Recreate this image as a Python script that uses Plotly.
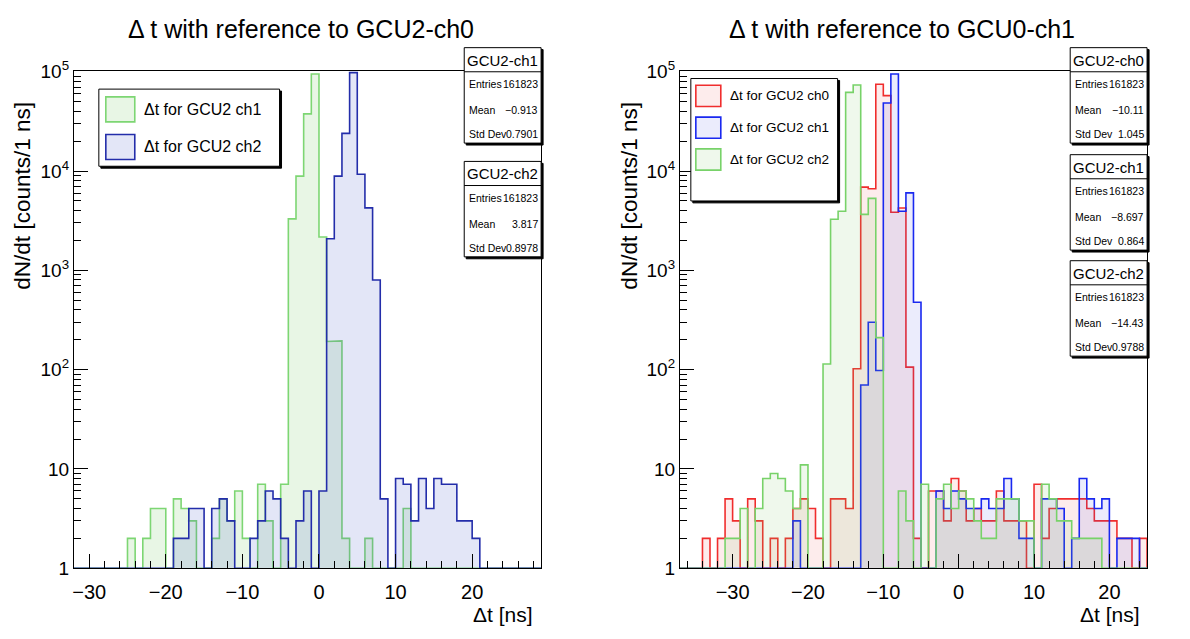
import plotly.graph_objects as go

W, H = 1190, 639
FONT = "Liberation Sans, Arial, Helvetica, sans-serif"

# ---------------- data (1 ns bins, value = counts in [edge, edge+1)) ----------------
left_first_edge = -32      # left pad: bins from -32 to 29
left_ch1 = [0, 0, 0, 0, 0, 0, 0, 2, 0, 2, 4, 4, 0, 5, 4, 3, 0, 0, 2, 5, 3, 6, 2, 0, 7, 3, 0, 7,
            3300, 8900, 37700, 95000, 2170, 192, 195, 2, 0, 0, 2, 0, 0, 0, 0, 4,
            0, 0, 0, 0, 0, 0, 0, 0, 0, 0, 0, 0, 0, 0, 0, 0, 0]
left_ch2 = [0, 0, 0, 0, 0, 0, 0, 0, 0, 0, 0, 0, 0,
            2, 2, 4, 4, 0, 4, 5, 3, 0, 0, 2, 3, 6, 5, 2, 0, 3, 6, 0, 6,
            2080, 8900, 24000, 98000, 9300, 4260, 800, 5, 0,
            8, 7, 3, 8, 4, 8, 7, 7, 3, 3, 2,
            0, 0, 0, 0, 0, 0, 0, 0]

right_first_edge = -37     # right pad: bins from -37 to 25
right_ch0 = [0, 0, 0, 2, 0, 2, 5, 3, 0, 5, 3, 0, 2, 0, 2, 4, 5, 4, 2, 0, 5, 5, 4,
             102, 6890, 6640, 74800, 57600, 3850, 4250, 106, 2,
             0, 6, 6, 3, 8, 6, 3, 4, 3, 3, 6, 3, 3, 3, 0, 7, 2, 4, 5, 5, 5, 5, 4, 3, 3, 3, 2, 2, 0, 2]
right_ch1 = [0, 0, 0, 0, 0, 0, 0, 0, 0, 0, 0, 0, 0, 0, 0, 3,
             0, 0, 0, 0, 0, 0, 0, 0,
             70, 300, 98, 48500, 95000, 3940, 6030, 478,
             0, 0, 6, 4, 6, 5, 4, 4, 5, 4, 4, 8, 5, 2, 2, 0, 5, 5, 4, 0, 2, 8, 5, 4, 5, 0, 2, 2, 2, 0]
right_ch2 = [0, 0, 0, 0, 0, 0,
             2, 2, 4, 0, 4, 8, 9, 8, 6, 4, 11, 0, 0,
             114, 3270, 3940, 62100, 73600, 3660, 5310, 210, 0, 0,
             6, 3, 0, 7, 0, 5, 7, 4, 6, 5, 3, 2, 2, 5, 5, 5, 3, 3, 0, 7, 5, 3, 3, 2, 2, 2, 2,
             0, 0, 0, 0, 0, 0]

left_stats = [("GCU2-ch1", "161823", "\u22120.913", "0.7901"),
              ("GCU2-ch2", "161823", "3.817", "0.8978")]
right_stats = [("GCU2-ch0", "161823", "\u221210.11", "1.045"),
               ("GCU2-ch1", "161823", "\u22128.697", "0.864"),
               ("GCU2-ch2", "161823", "\u221214.43", "0.9788")]

left_legend = ["\u0394t for GCU2 ch1", "\u0394t for GCU2 ch2"]
right_legend = ["\u0394t for GCU2 ch0", "\u0394t for GCU2 ch1", "\u0394t for GCU2 ch2"]

y_tickvals = [1, 10, 100, 1000, 10000, 100000]
y_ticktext = ["1", "10", "10<sup>2</sup>", "10<sup>3</sup>", "10<sup>4</sup>", "10<sup>5</sup>"]

# ---------------- styling ----------------
GREEN_L, GREEN_F = "rgb(125,214,115)", "rgba(125,205,110,0.18)"
NAVY_L, NAVY_F = "rgb(35,45,170)", "rgba(70,90,200,0.15)"
RED_L, RED_F = "rgb(240,45,45)", "rgba(235,70,70,0.10)"
BLUE_L, BLUE_F = "rgb(25,40,240)", "rgba(60,70,230,0.10)"
GREEN2_L, GREEN2_F = "rgb(120,210,105)", "rgba(120,200,100,0.12)"


def px(x):
    return x / W


def py(y):
    return 1 - y / H


def step_outline(first_edge, counts):
    """Closed step outline of a histogram; empty bins sit on the axis floor (1)."""
    xs, ys = [first_edge], [1]
    for i, c in enumerate(counts):
        v = c if c > 0 else 1
        xs += [first_edge + i, first_edge + i + 1]
        ys += [v, v]
    xs.append(first_edge + len(counts))
    ys.append(1)
    return xs, ys


fig = go.Figure()


def add_hist(first_edge, counts, line, fill, xa, ya):
    xs, ys = step_outline(first_edge, counts)
    fig.add_trace(go.Scatter(x=xs, y=ys, mode="lines", fill="toself", fillcolor=fill,
                             line=dict(color=line, width=1.6), xaxis=xa, yaxis=ya,
                             hoverinfo="skip", showlegend=False))


add_hist(left_first_edge, left_ch1, GREEN_L, GREEN_F, "x", "y")
add_hist(left_first_edge, left_ch2, NAVY_L, NAVY_F, "x", "y")
add_hist(right_first_edge, right_ch0, RED_L, RED_F, "x2", "y2")
add_hist(right_first_edge, right_ch1, BLUE_L, BLUE_F, "x2", "y2")
add_hist(right_first_edge, right_ch2, GREEN2_L, GREEN2_F, "x2", "y2")

ydom = [py(577), py(61)]


def xaxis_cfg(dom, rng, anchor):
    return dict(domain=dom, range=rng, anchor=anchor, showgrid=False, zeroline=False,
                tickvals=[-30, -20, -10, 0, 10, 20], ticks="inside", ticklen=14,
                tickcolor="black", tickwidth=1, showline=True, linecolor="black",
                linewidth=1, mirror=True, ticklabelstandoff=6,
                minor=dict(dtick=2, tick0=0, ticks="inside", ticklen=7,
                           tickcolor="black", tickwidth=1),
                tickfont=dict(family=FONT, size=20, color="black"))


minor_y = [m * 10 ** d for d in range(0, 5) for m in range(2, 10)]


def yaxis_cfg(anchor):
    return dict(domain=ydom, type="log", range=[0, 5.01], anchor=anchor,
                showgrid=False, zeroline=False, tickvals=y_tickvals, ticktext=y_ticktext,
                ticks="inside", ticklen=14, tickcolor="black", tickwidth=1,
                showline=True, linecolor="black", linewidth=1, mirror=True,
                minor=dict(tickmode="array", tickvals=minor_y, ticks="inside", ticklen=7,
                           tickcolor="black", tickwidth=1),
                tickfont=dict(family=FONT, size=19, color="black"))


shapes, annotations = [], []


def text(t, x, y, size, xanchor="center", yanchor="middle", angle=0):
    annotations.append(dict(text=t, x=px(x), y=py(y), xref="paper", yref="paper",
                            xanchor=xanchor, yanchor=yanchor, textangle=angle,
                            showarrow=False, borderpad=0,
                            font=dict(family=FONT, size=size, color="black")))


def rect(x0, y0, x1, y1, line="black", fill="white", width=1):
    shapes.append(dict(type="rect", xref="paper", yref="paper", x0=px(x0), x1=px(x1),
                       y0=py(y1), y1=py(y0), line=dict(color=line, width=width),
                       fillcolor=fill, layer="above"))


def hline(x0, x1, y):
    shapes.append(dict(type="line", xref="paper", yref="paper", x0=px(x0), x1=px(x1),
                       y0=py(y), y1=py(y), line=dict(color="black", width=1), layer="above"))


def stats_box(x0, x1, top, stats):
    name, entries, mean, std = stats
    rect(x0 + 2, top + 2, x1 + 2, top + 101, line="black", fill="black")
    rect(x0, top, x1, top + 99)
    hline(x0, x1, top + 25)
    text(name, (x0 + x1) / 2, top + 13, 15)
    for label, val, dy in (("Entries", entries, 38), ("Mean", mean, 65), ("Std Dev", std, 90)):
        text(label, x0 + 4, top + dy, 10.5, xanchor="left")
        text(val, x1 - 2, top + dy, 10.5, xanchor="right")


def legend_box(x0, y0, x1, y1, rows):
    rect(x0 + 2, y0 + 2, x1 + 2, y1 + 2, line="black", fill="black")
    rect(x0, y0, x1, y1)
    for label, line, fill, yc, sx0, sx1, sh, tx, fs in rows:
        rect(sx0, yc - sh / 2, sx1, yc + sh / 2, line="white", fill="white", width=0)
        rect(sx0, yc - sh / 2, sx1, yc + sh / 2, line=line, fill=fill, width=1.6)
        text(label, tx, yc, fs, xanchor="left")


# titles
text("\u0394 t with reference to GCU2-ch0", 300, 18, 25)
text("\u0394 t with reference to GCU0-ch1", 902, 18, 25)

# axis titles
text("dN/dt [counts/1 ns]", 21, 92, 22.5, yanchor="top", angle=-90)
text("dN/dt [counts/1 ns]", 629, 92, 22.5, yanchor="top", angle=-90)
text("\u0394t [ns]", 533, 625, 21, xanchor="right")
text("\u0394t [ns]", 1141, 625, 21, xanchor="right")

# legends
legend_box(97, 80, 278, 160, [
    (left_legend[0], GREEN_L, GREEN_F, 101, 104, 133, 26, 141, 16),
    (left_legend[1], NAVY_L, NAVY_F, 140, 104, 133, 26, 141, 16),
])
legend_box(690, 69, 837, 196, [
    (right_legend[0], RED_L, RED_F, 87, 695, 720, 22, 728, 13.5),
    (right_legend[1], BLUE_L, BLUE_F, 120, 695, 720, 22, 728, 13.5),
    (right_legend[2], GREEN2_L, GREEN2_F, 153, 695, 720, 22, 728, 13.5),
])

# statistics boxes
stats_box(463, 540, 37, left_stats[0])
stats_box(463, 540, 155, left_stats[1])
stats_box(1070, 1147, 37, right_stats[0])
stats_box(1070, 1147, 148, right_stats[1])
stats_box(1070, 1147, 258, right_stats[2])

fig.update_layout(
    width=W, height=H, margin=dict(l=0, r=0, t=0, b=0),
    paper_bgcolor="white", plot_bgcolor="white", showlegend=False,
    font=dict(family=FONT, color="black"),
    xaxis=xaxis_cfg([px(72), px(540)], [left_first_edge, left_first_edge + len(left_ch1)], "y"),
    yaxis=yaxis_cfg("x"),
    xaxis2=xaxis_cfg([px(679), px(1147)], [right_first_edge, right_first_edge + len(right_ch0)], "y2"),
    yaxis2=yaxis_cfg("x2"),
    shapes=shapes, annotations=annotations,
)

fig.write_html("out.html")
